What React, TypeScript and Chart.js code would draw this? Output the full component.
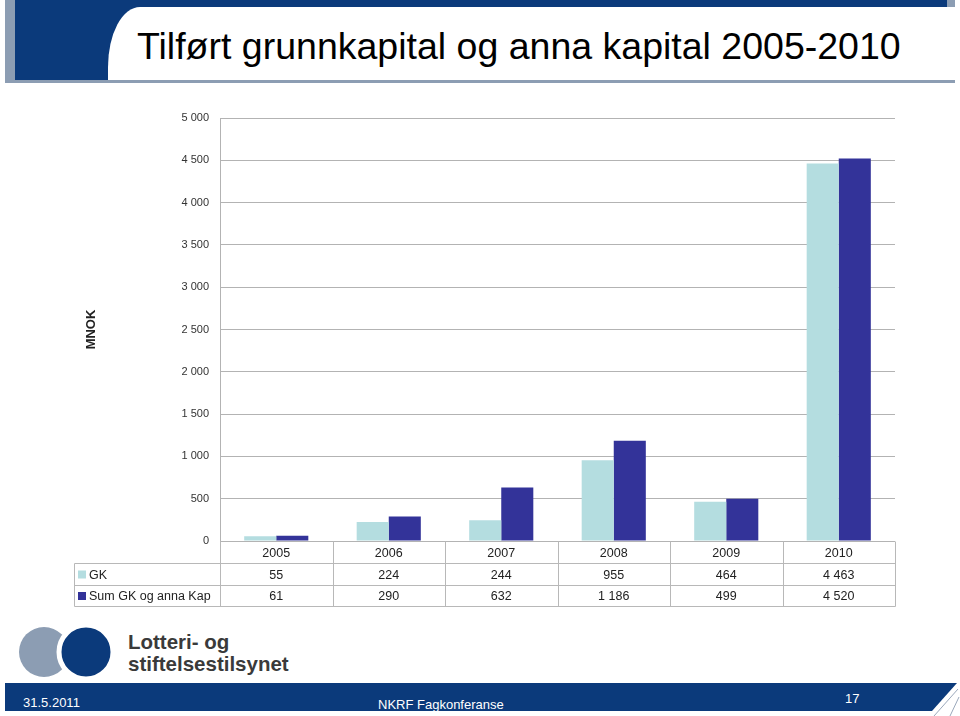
import React, { useEffect, useRef } from "react";
import { Chart, registerables } from "chart.js";

Chart.register(...registerables);

const years = ["2005", "2006", "2007", "2008", "2009", "2010"];
const gkValues = [55, 224, 244, 955, 464, 4463];
const sumValues = [61, 290, 632, 1186, 499, 4520];
const seriesNames = ["GK", "Sum GK og anna Kap"];
const seriesColors = ["#b4dde0", "#333399"];
const yMax = 5000;
const yStep = 500;

const FONT = "'Liberation Sans', Arial, sans-serif";
const DARK_BLUE = "#0b3a7b";
const GREY_BLUE = "#8c9db3";

const fmt = (v: number) => String(v).replace(/\B(?=(\d{3})+(?!\d))/g, " ");

const tablePlugin = {
  id: "dataTable",
  afterDraw(chart: any) {
    const ctx = chart.ctx;
    const { left, right, bottom } = chart.chartArea;
    const n = years.length;
    const cw = (right - left) / n;
    const rowH = 22;
    const y0 = Math.round(bottom) + 0.5;
    const y1 = y0 + rowH;
    const y2 = y1 + rowH;
    const y3 = y2 + rowH - 1;
    const legLeft = 74.5;
    ctx.save();
    ctx.strokeStyle = "#b8b8b8";
    ctx.lineWidth = 1;
    ctx.beginPath();
    for (let i = 0; i <= n; i++) {
      const x = Math.round(left + i * cw) + 0.5;
      ctx.moveTo(x, y0);
      ctx.lineTo(x, y3);
    }
    ctx.moveTo(legLeft, y1);
    ctx.lineTo(legLeft, y3);
    [y1, y2, y3].forEach((y) => {
      ctx.moveTo(legLeft, y);
      ctx.lineTo(Math.round(right) + 0.5, y);
    });
    ctx.stroke();

    ctx.font = `12.5px ${FONT}`;
    ctx.fillStyle = "#222";
    ctx.textAlign = "center";
    ctx.textBaseline = "middle";
    const rows = [years, gkValues.map(fmt), sumValues.map(fmt)];
    const ys = [(y0 + y1) / 2 + 1, (y1 + y2) / 2 + 1, (y2 + y3) / 2 + 1];
    rows.forEach((row, r) => {
      row.forEach((t, i) => {
        ctx.fillText(t, chart.scales.x.getPixelForValue(i), ys[r]);
      });
    });
    ctx.textAlign = "left";
    seriesNames.forEach((name, s) => {
      const yc = ys[s + 1];
      ctx.fillStyle = seriesColors[s];
      ctx.fillRect(legLeft + 3.5, yc - 5, 8, 8);
      ctx.fillStyle = "#222";
      ctx.fillText(name, legLeft + 14.5, yc);
    });
    ctx.restore();
  },
};

function ChartCanvas() {
  const ref = useRef<HTMLCanvasElement | null>(null);
  useEffect(() => {
    if (!ref.current) return;
    const chart = new Chart(ref.current, {
      type: "bar",
      data: {
        labels: years,
        datasets: [
          { label: seriesNames[0], data: gkValues, backgroundColor: seriesColors[0], borderWidth: 0 },
          { label: seriesNames[1], data: sumValues, backgroundColor: seriesColors[1], borderWidth: 0 },
        ],
      },
      options: {
        animation: false,
        responsive: false,
        events: [],
        categoryPercentage: 0.57,
        barPercentage: 1.0,
        layout: { padding: { left: 80, right: 65, top: 118, bottom: 175 } },
        plugins: { legend: { display: false }, tooltip: { enabled: false }, title: { display: false } },
        scales: {
          x: { display: false },
          y: {
            min: 0,
            max: yMax,
            afterFit(scale: any) {
              scale.width = 140;
            },
            ticks: {
              stepSize: yStep,
              padding: 11,
              color: "#333",
              font: { family: FONT, size: 11 },
              callback: (v: any) => fmt(Number(v)),
            },
            grid: { color: "#b3b3b3", drawTicks: false },
            border: { color: "#b3b3b3" },
            title: {
              display: true,
              text: "MNOK",
              color: "#222",
              font: { family: FONT, size: 13, weight: "bold" },
              padding: { top: 4, bottom: 0 },
            },
          },
        },
      },
      plugins: [tablePlugin],
    } as any);
    return () => chart.destroy();
  }, []);
  return (
    <canvas
      ref={ref}
      width={960}
      height={716}
      style={{ position: "absolute", left: 0, top: 0, width: 960, height: 716, zIndex: 5 }}
    />
  );
}

export default function App() {
  const abs = (s: React.CSSProperties): React.CSSProperties => ({ position: "absolute", ...s });
  return (
    <div style={abs({ left: 0, top: 0, width: 960, height: 716, background: "#fff", overflow: "hidden", fontFamily: FONT })}>
      {/* header */}
      <div style={abs({ left: 5, top: 0, width: 10, height: 80, background: GREY_BLUE })} />
      <div style={abs({ left: 15, top: 0, width: 932, height: 7, background: DARK_BLUE })} />
      <div style={abs({ left: 947, top: 0, width: 8, height: 7, background: GREY_BLUE })} />
      <div style={abs({ left: 15, top: 0, width: 140, height: 80, background: DARK_BLUE })} />
      <div style={abs({ left: 108, top: 7, width: 850, height: 73, background: "#fff", borderTopLeftRadius: "32px 60px" })} />
      <div style={abs({ left: 5, top: 80, width: 950, height: 3, background: GREY_BLUE })} />
      <div style={abs({ left: 137, top: 28, fontSize: 37.5, lineHeight: "37.5px", color: "#000", whiteSpace: "nowrap" })}>
        Tilført grunnkapital og anna kapital 2005-2010
      </div>

      {/* logo */}
      <svg style={abs({ left: 0, top: 620, width: 120, height: 64 })} width={120} height={64}>
        <circle cx={44} cy={32} r={25} fill={GREY_BLUE} />
        <circle cx={86} cy={32} r={27} fill={DARK_BLUE} stroke="#fff" strokeWidth={5} />
      </svg>
      <div style={abs({ left: 128, top: 632, fontSize: 20.5, lineHeight: "20px", fontWeight: "bold", color: "#3a3a3a", whiteSpace: "nowrap" })}>
        Lotteri- og
      </div>
      <div style={abs({ left: 128, top: 654, fontSize: 20.5, lineHeight: "20px", fontWeight: "bold", color: "#3a3a3a", whiteSpace: "nowrap" })}>
        stiftelsestilsynet
      </div>

      {/* footer */}
      <div
        style={abs({
          left: 5,
          top: 683,
          width: 952,
          height: 28,
          background: DARK_BLUE,
          clipPath: "polygon(0 0, 100% 0, calc(100% - 25px) 100%, 0 100%)",
        })}
      />
      <svg style={abs({ left: 920, top: 683, width: 40, height: 33 })} width={40} height={33}>
        <line x1={38} y1={6} x2={14} y2={33} stroke="#9aa8bb" strokeWidth={1} />
        <line x1={39} y1={14} x2={30} y2={33} stroke="#9aa8bb" strokeWidth={1} />
      </svg>
      <div style={abs({ left: 23, top: 696, fontSize: 13, lineHeight: "13px", color: "#fff" })}>31.5.2011</div>
      <div style={abs({ left: 378, top: 698, fontSize: 13, lineHeight: "13px", color: "#fff" })}>NKRF Fagkonferanse</div>
      <div style={abs({ left: 845, top: 692, fontSize: 13, lineHeight: "13px", color: "#fff" })}>17</div>

      <ChartCanvas />
    </div>
  );
}
